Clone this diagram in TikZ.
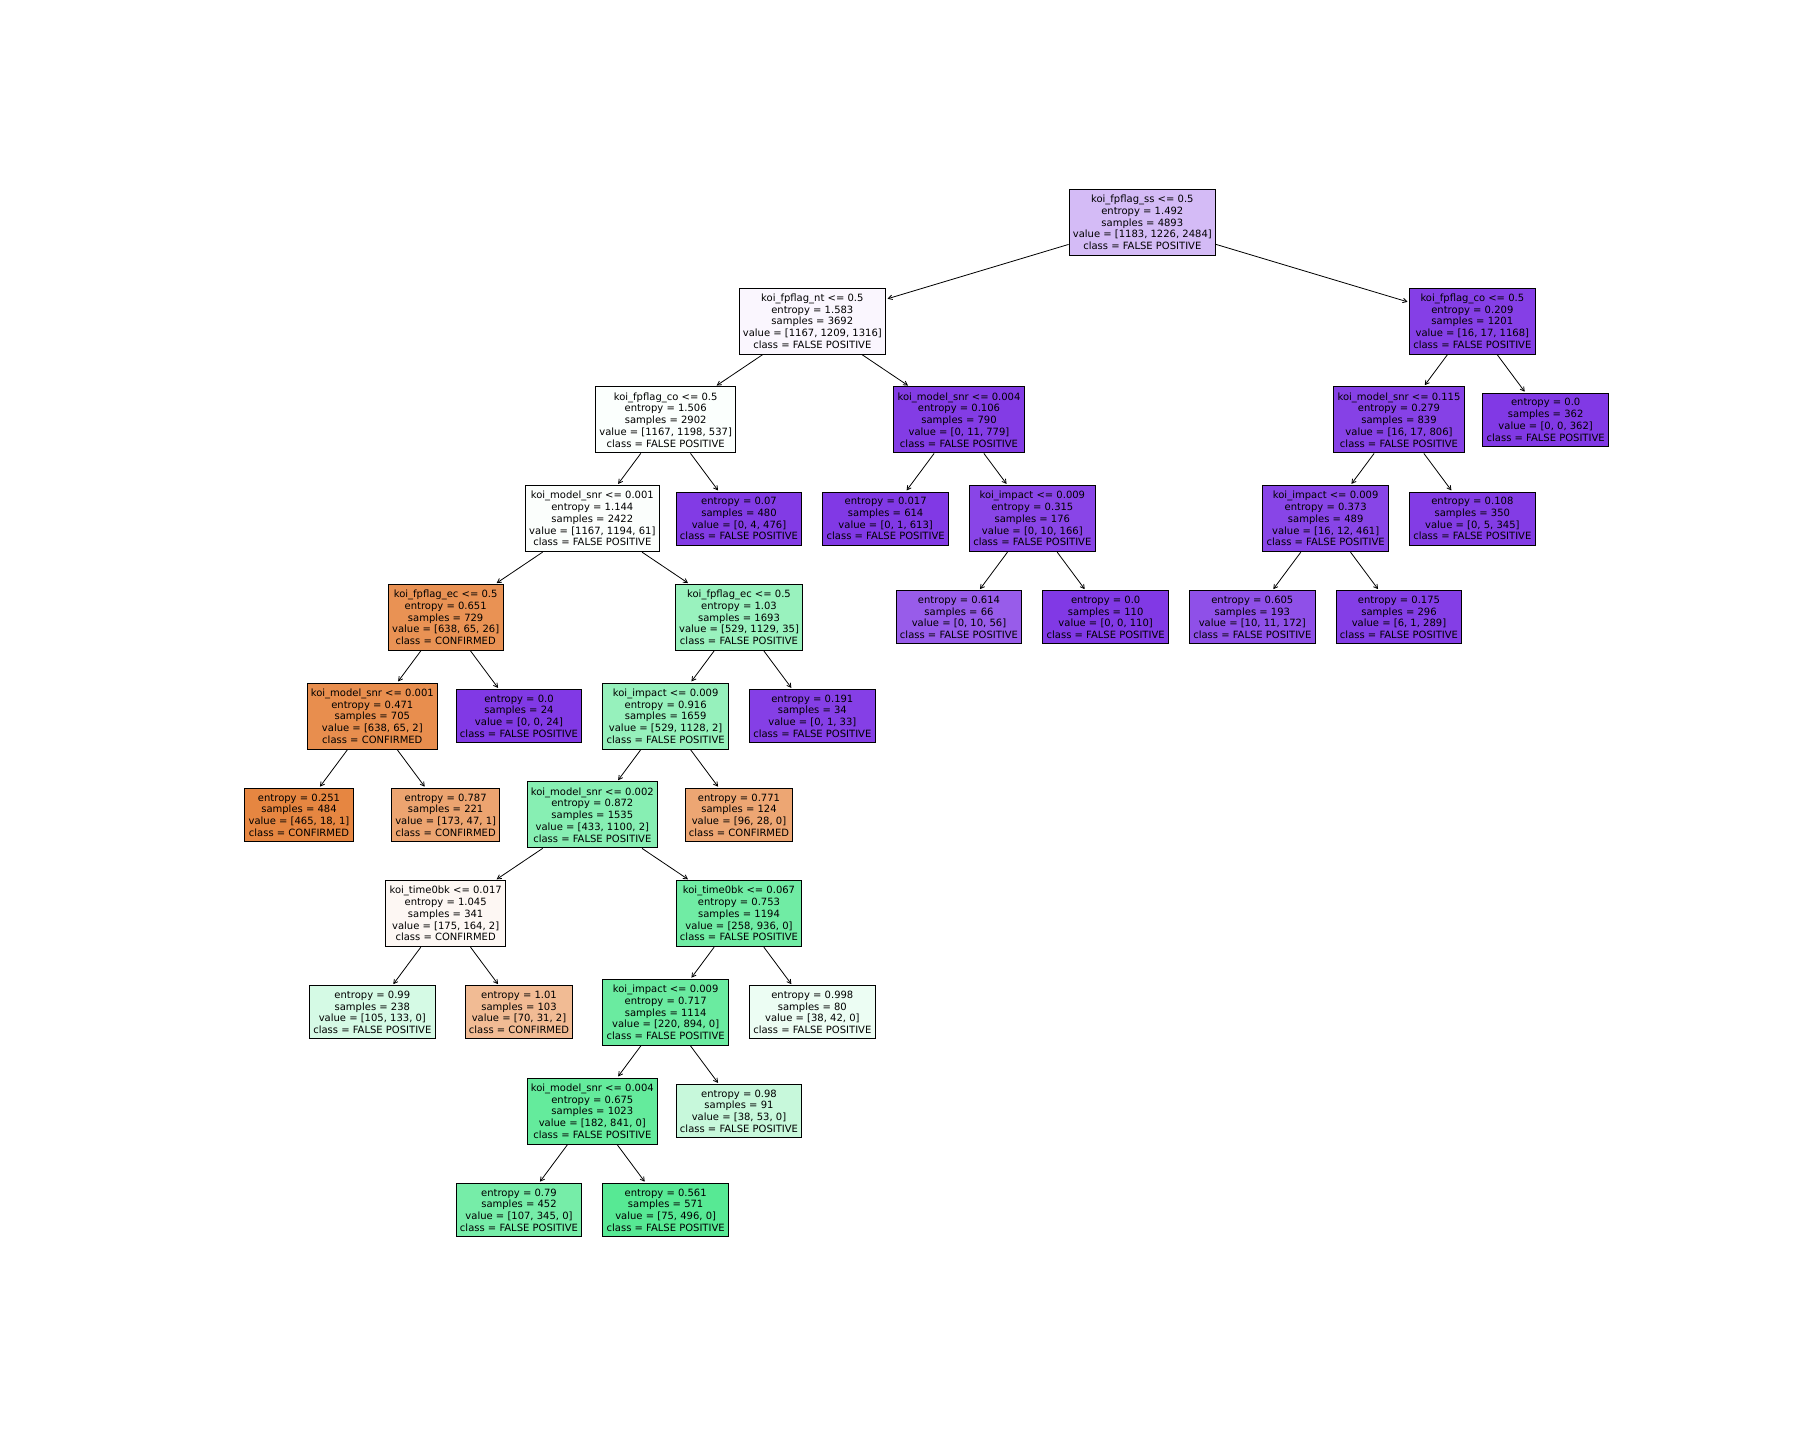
\documentclass[tikz,border=0pt]{standalone}
\usepackage{fontspec}
\setmainfont{DejaVu Sans}
\usetikzlibrary{arrows.meta}
% class colours: index 0 orange, index 1 green, index 2 purple
\definecolor{cconf}{RGB}{229,129,57}
\definecolor{cfpg}{RGB}{57,229,129}
\definecolor{cfpp}{RGB}{129,57,229}
\tikzset{
  tbox/.style={draw=black, line width=1bp, align=center, inner xsep=3.8bp, inner ysep=0bp,
    font=\fontsize{10bp}{11.7bp}\selectfont, text=black},
  splitbox/.style={tbox, minimum height=66bp},
  leafbox/.style={tbox, minimum height=53bp},
  edge/.style={draw=black, line width=0.8bp, shorten >=1.5bp,
    -{Straight Barb[length=4bp,width=4.5bp]}}
}
\begin{document}
\begin{tikzpicture}
\useasboundingbox (0bp,0bp) rectangle (1800bp,-1440bp);
\begin{scope}[x=73.333bp, y=-98.75bp, shift={(299bp,-222.4bp)}]
% level 0
\node[splitbox, fill=cfpp!34.3!white] (n0) at (11.5,0) {koi\_fpflag\_ss <= 0.5\\entropy = 1.492\\samples = 4893\\value = [1183, 1226, 2484]\\class = FALSE POSITIVE};
% level 1
\node[splitbox, fill=cfpp!4.3!white] (n1) at (7,1) {koi\_fpflag\_nt <= 0.5\\entropy = 1.583\\samples = 3692\\value = [1167, 1209, 1316]\\class = FALSE POSITIVE};
\node[splitbox, fill=cfpp!97.2!white] (n2) at (16,1) {koi\_fpflag\_co <= 0.5\\entropy = 0.209\\samples = 1201\\value = [16, 17, 1168]\\class = FALSE POSITIVE};
% level 2
\node[splitbox, fill=cfpg!1.8!white] (n3) at (5,2) {koi\_fpflag\_co <= 0.5\\entropy = 1.506\\samples = 2902\\value = [1167, 1198, 537]\\class = FALSE POSITIVE};
\node[splitbox, fill=cfpp!98.6!white] (n4) at (9,2) {koi\_model\_snr <= 0.004\\entropy = 0.106\\samples = 790\\value = [0, 11, 779]\\class = FALSE POSITIVE};
\node[splitbox, fill=cfpp!96!white] (n5) at (15,2) {koi\_model\_snr <= 0.115\\entropy = 0.279\\samples = 839\\value = [16, 17, 806]\\class = FALSE POSITIVE};
\node[leafbox, fill=cfpp] (n6) at (17,2) {entropy = 0.0\\samples = 362\\value = [0, 0, 362]\\class = FALSE POSITIVE};
% level 3
\node[splitbox, fill=cfpg!2.1!white] (n7) at (4,3) {koi\_model\_snr <= 0.001\\entropy = 1.144\\samples = 2422\\value = [1167, 1194, 61]\\class = FALSE POSITIVE};
\node[leafbox, fill=cfpp!99.2!white] (n8) at (6,3) {entropy = 0.07\\samples = 480\\value = [0, 4, 476]\\class = FALSE POSITIVE};
\node[leafbox, fill=cfpp!99.8!white] (n9) at (8,3) {entropy = 0.017\\samples = 614\\value = [0, 1, 613]\\class = FALSE POSITIVE};
\node[splitbox, fill=cfpp!94!white] (n10) at (10,3) {koi\_impact <= 0.009\\entropy = 0.315\\samples = 176\\value = [0, 10, 166]\\class = FALSE POSITIVE};
\node[splitbox, fill=cfpp!94.1!white] (n11) at (14,3) {koi\_impact <= 0.009\\entropy = 0.373\\samples = 489\\value = [16, 12, 461]\\class = FALSE POSITIVE};
\node[leafbox, fill=cfpp!98.6!white] (n12) at (16,3) {entropy = 0.108\\samples = 350\\value = [0, 5, 345]\\class = FALSE POSITIVE};
% level 4
\node[splitbox, fill=cconf!86.3!white] (n13) at (2,4) {koi\_fpflag\_ec <= 0.5\\entropy = 0.651\\samples = 729\\value = [638, 65, 26]\\class = CONFIRMED};
\node[splitbox, fill=cfpg!51.5!white] (n14) at (6,4) {koi\_fpflag\_ec <= 0.5\\entropy = 1.03\\samples = 1693\\value = [529, 1129, 35]\\class = FALSE POSITIVE};
\node[leafbox, fill=cfpp!82.1!white] (n15) at (9,4) {entropy = 0.614\\samples = 66\\value = [0, 10, 56]\\class = FALSE POSITIVE};
\node[leafbox, fill=cfpp] (n16) at (11,4) {entropy = 0.0\\samples = 110\\value = [0, 0, 110]\\class = FALSE POSITIVE};
\node[leafbox, fill=cfpp!88.5!white] (n17) at (13,4) {entropy = 0.605\\samples = 193\\value = [10, 11, 172]\\class = FALSE POSITIVE};
\node[leafbox, fill=cfpp!97.6!white] (n18) at (15,4) {entropy = 0.175\\samples = 296\\value = [6, 1, 289]\\class = FALSE POSITIVE};
% level 5
\node[splitbox, fill=cconf!89.5!white] (n19) at (1,5) {koi\_model\_snr <= 0.001\\entropy = 0.471\\samples = 705\\value = [638, 65, 2]\\class = CONFIRMED};
\node[leafbox, fill=cfpp] (n20) at (3,5) {entropy = 0.0\\samples = 24\\value = [0, 0, 24]\\class = FALSE POSITIVE};
\node[splitbox, fill=cfpg!53!white] (n21) at (5,5) {koi\_impact <= 0.009\\entropy = 0.916\\samples = 1659\\value = [529, 1128, 2]\\class = FALSE POSITIVE};
\node[leafbox, fill=cfpp!97!white] (n22) at (7,5) {entropy = 0.191\\samples = 34\\value = [0, 1, 33]\\class = FALSE POSITIVE};
% level 6
\node[leafbox, fill=cconf!95.9!white] (n23) at (0,6) {entropy = 0.251\\samples = 484\\value = [465, 18, 1]\\class = CONFIRMED};
\node[leafbox, fill=cconf!72.4!white] (n24) at (2,6) {entropy = 0.787\\samples = 221\\value = [173, 47, 1]\\class = CONFIRMED};
\node[splitbox, fill=cfpg!60.5!white] (n25) at (4,6) {koi\_model\_snr <= 0.002\\entropy = 0.872\\samples = 1535\\value = [433, 1100, 2]\\class = FALSE POSITIVE};
\node[leafbox, fill=cconf!70.8!white] (n26) at (6,6) {entropy = 0.771\\samples = 124\\value = [96, 28, 0]\\class = CONFIRMED};
% level 7
\node[splitbox, fill=cconf!6.2!white] (n27) at (2,7) {koi\_time0bk <= 0.017\\entropy = 1.045\\samples = 341\\value = [175, 164, 2]\\class = CONFIRMED};
\node[splitbox, fill=cfpg!72.4!white] (n28) at (6,7) {koi\_time0bk <= 0.067\\entropy = 0.753\\samples = 1194\\value = [258, 936, 0]\\class = FALSE POSITIVE};
% level 8
\node[leafbox, fill=cfpg!21!white] (n29) at (1,8) {entropy = 0.99\\samples = 238\\value = [105, 133, 0]\\class = FALSE POSITIVE};
\node[leafbox, fill=cconf!54.2!white] (n30) at (3,8) {entropy = 1.01\\samples = 103\\value = [70, 31, 2]\\class = CONFIRMED};
\node[splitbox, fill=cfpg!75.4!white] (n31) at (5,8) {koi\_impact <= 0.009\\entropy = 0.717\\samples = 1114\\value = [220, 894, 0]\\class = FALSE POSITIVE};
\node[leafbox, fill=cfpg!9.5!white] (n32) at (7,8) {entropy = 0.998\\samples = 80\\value = [38, 42, 0]\\class = FALSE POSITIVE};
% level 9
\node[splitbox, fill=cfpg!78.4!white] (n33) at (4,9) {koi\_model\_snr <= 0.004\\entropy = 0.675\\samples = 1023\\value = [182, 841, 0]\\class = FALSE POSITIVE};
\node[leafbox, fill=cfpg!28.3!white] (n34) at (6,9) {entropy = 0.98\\samples = 91\\value = [38, 53, 0]\\class = FALSE POSITIVE};
% level 10
\node[leafbox, fill=cfpg!69!white] (n35) at (3,10) {entropy = 0.79\\samples = 452\\value = [107, 345, 0]\\class = FALSE POSITIVE};
\node[leafbox, fill=cfpg!84.9!white] (n36) at (5,10) {entropy = 0.561\\samples = 571\\value = [75, 496, 0]\\class = FALSE POSITIVE};
% connectors, parent to child
\foreach \p/\c in {n0/n1, n0/n2, n1/n3, n1/n4, n2/n5, n2/n6, n3/n7, n3/n8,
  n4/n9, n4/n10, n5/n11, n5/n12, n7/n13, n7/n14, n10/n15, n10/n16, n11/n17, n11/n18,
  n13/n19, n13/n20, n14/n21, n14/n22, n19/n23, n19/n24, n21/n25, n21/n26,
  n25/n27, n25/n28, n27/n29, n27/n30, n28/n31, n28/n32, n31/n33, n31/n34,
  n33/n35, n33/n36}
  \draw[edge] (\p) -- (\c);
\end{scope}
\end{tikzpicture}
\end{document}
